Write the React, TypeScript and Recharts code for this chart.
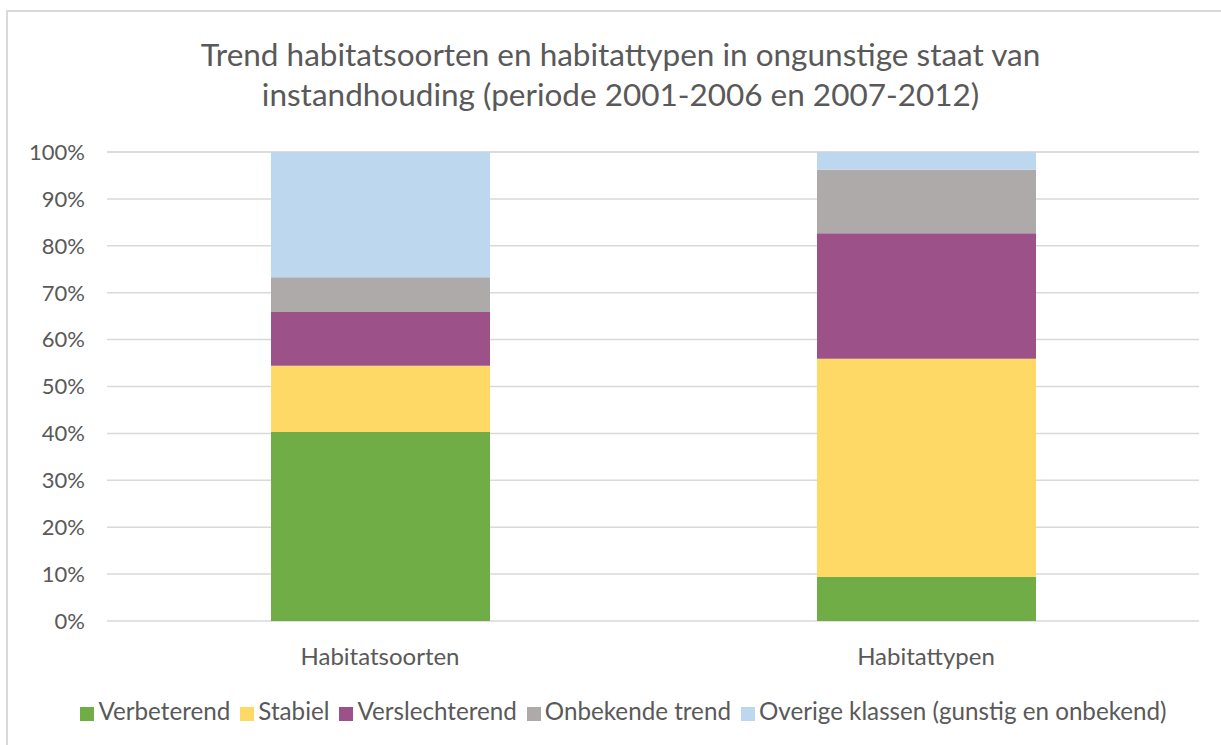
import { BarChart, Bar, XAxis, YAxis, CartesianGrid, Legend } from "recharts";

const categories = ["Habitatsoorten", "Habitattypen"];
const verbeterend = [40.3, 9.4];
const stabiel = [14.1, 46.5];
const verslechterend = [11.5, 26.8];
const onbekend = [7.4, 13.5];
const overige = [26.7, 3.8];
const yTicks = [0, 10, 20, 30, 40, 50, 60, 70, 80, 90, 100];

const series = [
  { key: "verbeterend", name: "Verbeterend", color: "#70ad47", values: verbeterend },
  { key: "stabiel", name: "Stabiel", color: "#ffd966", values: stabiel },
  { key: "verslechterend", name: "Verslechterend", color: "#9c5288", values: verslechterend },
  { key: "onbekend", name: "Onbekende trend", color: "#aeaaaa", values: onbekend },
  { key: "overige", name: "Overige klassen (gunstig en onbekend)", color: "#bdd7ee", values: overige },
];

const data = categories.map((name, i) => {
  const row: Record<string, string | number> = { name };
  series.forEach((s) => (row[s.key] = s.values[i]));
  return row;
});

const FONT = "Lato, 'Open Sans', sans-serif";
const TEXT = "#595959";

export default function App() {
  return (
    <div style={{ position: "fixed", left: 0, top: 0, width: 1221, height: 745, overflow: "hidden", background: "#fff", fontFamily: FONT }}>
      <div
        style={{
          position: "absolute",
          left: 0,
          width: 1241,
          top: 34,
          textAlign: "center",
          fontSize: 31.5,
          lineHeight: "40px",
          color: TEXT,
        }}
      >
        Trend habitatsoorten en habitattypen in ongunstige staat van
        <br />
        instandhouding (periode 2001-2006 en 2007-2012)
      </div>
      <div style={{ position: "absolute", left: 0, top: 0 }}>
        <BarChart width={1221} height={745} data={data} margin={{ top: 152, right: 22, left: 27, bottom: 84 }}>
          <CartesianGrid vertical={false} stroke="#d9d9d9" strokeWidth={1.5} />
          <XAxis
            dataKey="name"
            axisLine={false}
            tickLine={false}
            tickMargin={21}
            height={40}
            tick={{ fill: TEXT, fontSize: 24, fontFamily: FONT }}
          />
          <YAxis
            width={80}
            domain={[0, 100]}
            ticks={yTicks}
            axisLine={false}
            tickLine={false}
            tickMargin={16}
            tickFormatter={(v) => `${v}%`}
            tick={{ fill: TEXT, fontSize: 22, fontFamily: FONT }}
          />
          <Legend
            layout="horizontal"
            verticalAlign="middle"
            align="center"
            iconType="square"
            iconSize={14}
            itemSorter={null}
            wrapperStyle={{ top: 696, left: 8, width: 1241, fontSize: 24.2, fontFamily: FONT }}
            formatter={(value) => <span style={{ color: TEXT }}>{value}</span>}
          />
          {series.map((s) => (
            <Bar key={s.key} dataKey={s.key} name={s.name} stackId="a" fill={s.color} barSize={219} isAnimationActive={false} />
          ))}
        </BarChart>
      </div>
      <div
        style={{
          position: "absolute",
          left: 6,
          top: 10,
          width: 1260,
          height: 780,
          borderTop: "2px solid #d9d9d9",
          borderLeft: "2px solid #d9d9d9",
          pointerEvents: "none",
        }}
      />
    </div>
  );
}
